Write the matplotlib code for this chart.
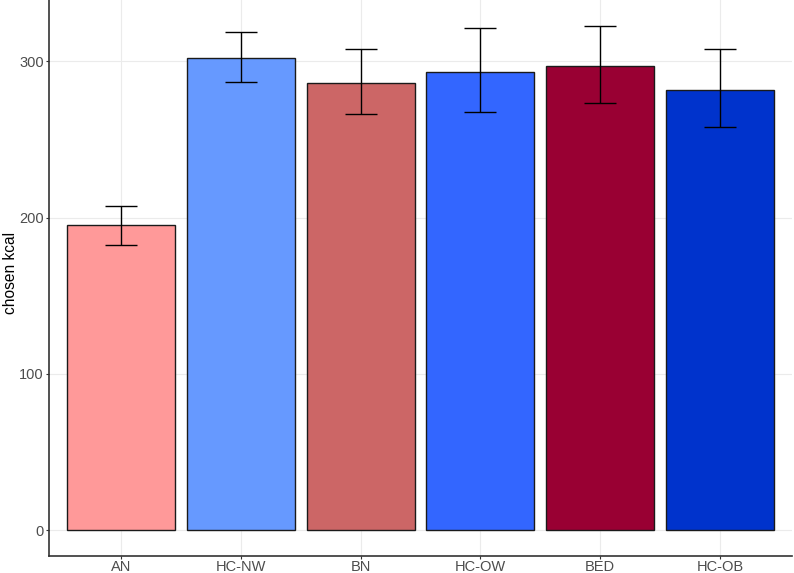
import matplotlib
matplotlib.use("Agg")
import matplotlib.pyplot as plt
import numpy as np

plt.rcParams["font.family"] = ["Liberation Sans", "DejaVu Sans"]

groups = ["AN", "HC-NW", "BN", "HC-OW", "BED", "HC-OB"]
kcal_mean = [195.1, 302.2, 286.0, 293.0, 297.1, 281.9]
err_low = [182.5, 286.6, 266.1, 267.4, 273.4, 257.8]
err_high = [207.6, 318.8, 308.1, 321.6, 322.4, 308.0]
bar_colors = ["#FF9999", "#6699FF", "#CC6666", "#3366FF", "#990033", "#0033CC"]
yticks = [0, 100, 200, 300]

x = np.arange(1, len(groups) + 1)
mean = np.array(kcal_mean)
yerr = [mean - np.array(err_low), np.array(err_high) - mean]

fig = plt.figure(figsize=(7.94, 5.73), dpi=100)
ax = fig.add_axes([0.0621, 0.0305, 0.9350, 0.9695])

ax.bar(x, mean, width=0.9, color=bar_colors, edgecolor="#1a1a1a",
       linewidth=1.0, zorder=2)
ax.errorbar(x, mean, yerr=yerr, fmt="none", ecolor="black", elinewidth=1.0,
            capsize=11.5, capthick=1.0, zorder=3)

# ggplot-like look
ax.set_xlim(0.4, 6.6)
ax.set_ylim(-16.2, 339.3)
ax.set_xticks(x)
ax.set_xticklabels(groups)
ax.set_yticks(yticks)
ax.grid(True, color="#EBEBEB", linewidth=0.8, zorder=0)
ax.set_axisbelow(True)
for side in ["top", "right"]:
    ax.spines[side].set_visible(False)
for side in ["left", "bottom"]:
    ax.spines[side].set_color("#333333")
    ax.spines[side].set_linewidth(1.2)
ax.tick_params(axis="both", colors="#333333", length=2, width=0.8,
               labelsize=10.5, labelcolor="#4D4D4D")
ax.tick_params(axis="x", pad=1)
ax.tick_params(axis="y", pad=2)

fig.text(0.0135, 0.524, "chosen kcal", rotation=90, va="center", ha="center",
         fontsize=11.2, color="black")

fig.savefig("out.png", dpi=100)
